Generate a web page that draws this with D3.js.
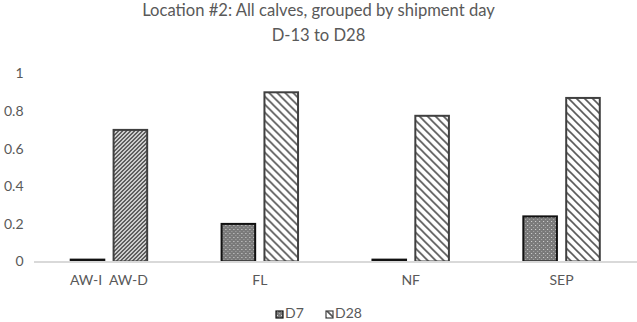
<!DOCTYPE html>
<html><head><meta charset="utf-8">
<script src="https://cdn.jsdelivr.net/npm/d3@7"></script>
<style>body{margin:0;background:#fff}svg{display:block;font-family:Lato,"Open Sans",sans-serif}</style>
</head><body><svg id="c" width="637" height="322"></svg>
<script>
const categories = ["AW-I  AW-D", "FL", "NF", "SEP"];
const seriesNames = ["D7", "D28"];
const d7 = [0.01, 0.20, 0.01, 0.24];
const d28 = [0.70, 0.90, 0.775, 0.87];
const yTicks = [0, 0.2, 0.4, 0.6, 0.8, 1];
const titleLines = ["Location #2: All calves, grouped by shipment day", "D-13 to D28"];

const svg = d3.select("#c");
const W = 637, H = 322;
const m = {l: 33.5, r: 0, t: 73.5, b: 60.5};
const defs = svg.append("defs");
const p1 = defs.append("pattern").attr("id","pD7").attr("patternUnits","userSpaceOnUse").attr("width",4).attr("height",4);
p1.append("rect").attr("width",4).attr("height",4).attr("fill","#7a7a7a");
p1.append("rect").attr("x",1).attr("y",1).attr("width",1).attr("height",1).attr("fill","#d8d8d8");
p1.append("rect").attr("x",3).attr("y",3).attr("width",1).attr("height",1).attr("fill","#a8a8a8");
const p2 = defs.append("pattern").attr("id","pD28").attr("patternUnits","userSpaceOnUse").attr("width",8).attr("height",8);
p2.append("rect").attr("width",8).attr("height",8).attr("fill","#fff");
p2.append("path").attr("d","M-2,-2L10,10M-2,6L2,10M6,-2L10,2").attr("stroke","#555").attr("stroke-width",1.6);
const p3 = defs.append("pattern").attr("id","pD28b").attr("patternUnits","userSpaceOnUse").attr("width",4).attr("height",4);
p3.append("rect").attr("width",4).attr("height",4).attr("fill","#fff");
p3.append("path").attr("d","M-1,5L5,-1M-1,1L1,-1M3,5L5,3").attr("stroke","#222").attr("stroke-width",1.3);

const x0 = d3.scaleBand().domain(categories).range([m.l, W - m.r]);
const y = d3.scaleLinear().domain([0, 1]).range([H - m.b, m.t]);

svg.append("g").selectAll("text").data(titleLines).join("text")
  .attr("x", 318.5).attr("y", (d,i)=> 16 + i*25).attr("text-anchor","middle")
  .attr("font-size", 16.6).attr("fill","#595959").text(d=>d);

const ya = svg.append("g").attr("transform",`translate(${m.l-10},0)`)
  .call(d3.axisLeft(y).tickValues(yTicks).tickSize(0).tickPadding(0).tickFormat(d=>d3.format("~g")(d)));
ya.select(".domain").remove();
ya.selectAll("text").attr("font-size",14).attr("fill","#595959").attr("font-family","Lato,sans-serif");

const groupW = x0.bandwidth()*0.52;
const inner = d3.scaleBand().domain(seriesNames).range([(x0.bandwidth()-groupW)/2, (x0.bandwidth()+groupW)/2]).paddingInner(0.17);
const data = categories.map((c,i)=>({c, vals:[{s:"D7",v:d7[i],i},{s:"D28",v:d28[i],i}]}));
const g = svg.append("g").selectAll("g").data(data).join("g").attr("transform",d=>`translate(${x0(d.c)},0)`);
g.selectAll("rect").data(d=>d.vals).join("rect")
  .attr("x", d=>inner(d.s)+1).attr("width", inner.bandwidth()-2)
  .attr("y", d=>y(d.v)).attr("height", d=>Math.max(0, y(0)-y(d.v)))
  .attr("fill", d=> d.s==="D7" ? "url(#pD7)" : (d.i===0 ? "url(#pD28b)" : "url(#pD28)"))
  .attr("stroke", d=> d.s==="D7" ? "#111" : "#404040").attr("stroke-width", 2);

const xa = svg.append("g").attr("transform",`translate(0,${y(0)})`)
  .call(d3.axisBottom(x0).tickSize(0).tickPadding(14));
xa.select(".domain").attr("stroke","#d9d9d9").attr("stroke-width",2);
xa.selectAll("text").attr("font-size",14).attr("fill","#595959").attr("font-family","Lato,sans-serif").style("white-space","pre");

const lg = svg.append("g").attr("transform","translate(276,310)");
const items = lg.selectAll("g").data(seriesNames).join("g").attr("transform",(d,i)=>`translate(${i*50},0)`);
items.append("rect").attr("width",7).attr("height",7).attr("y",1)
  .attr("fill",d=>d==="D7"?"url(#pD7)":"url(#pD28)").attr("stroke",d=>d==="D7"?"#111":"#404040").attr("stroke-width",1.2);
items.append("text").attr("x",9).attr("y",8).attr("font-size",14).attr("fill","#595959").text(d=>d);
</script></body></html>
